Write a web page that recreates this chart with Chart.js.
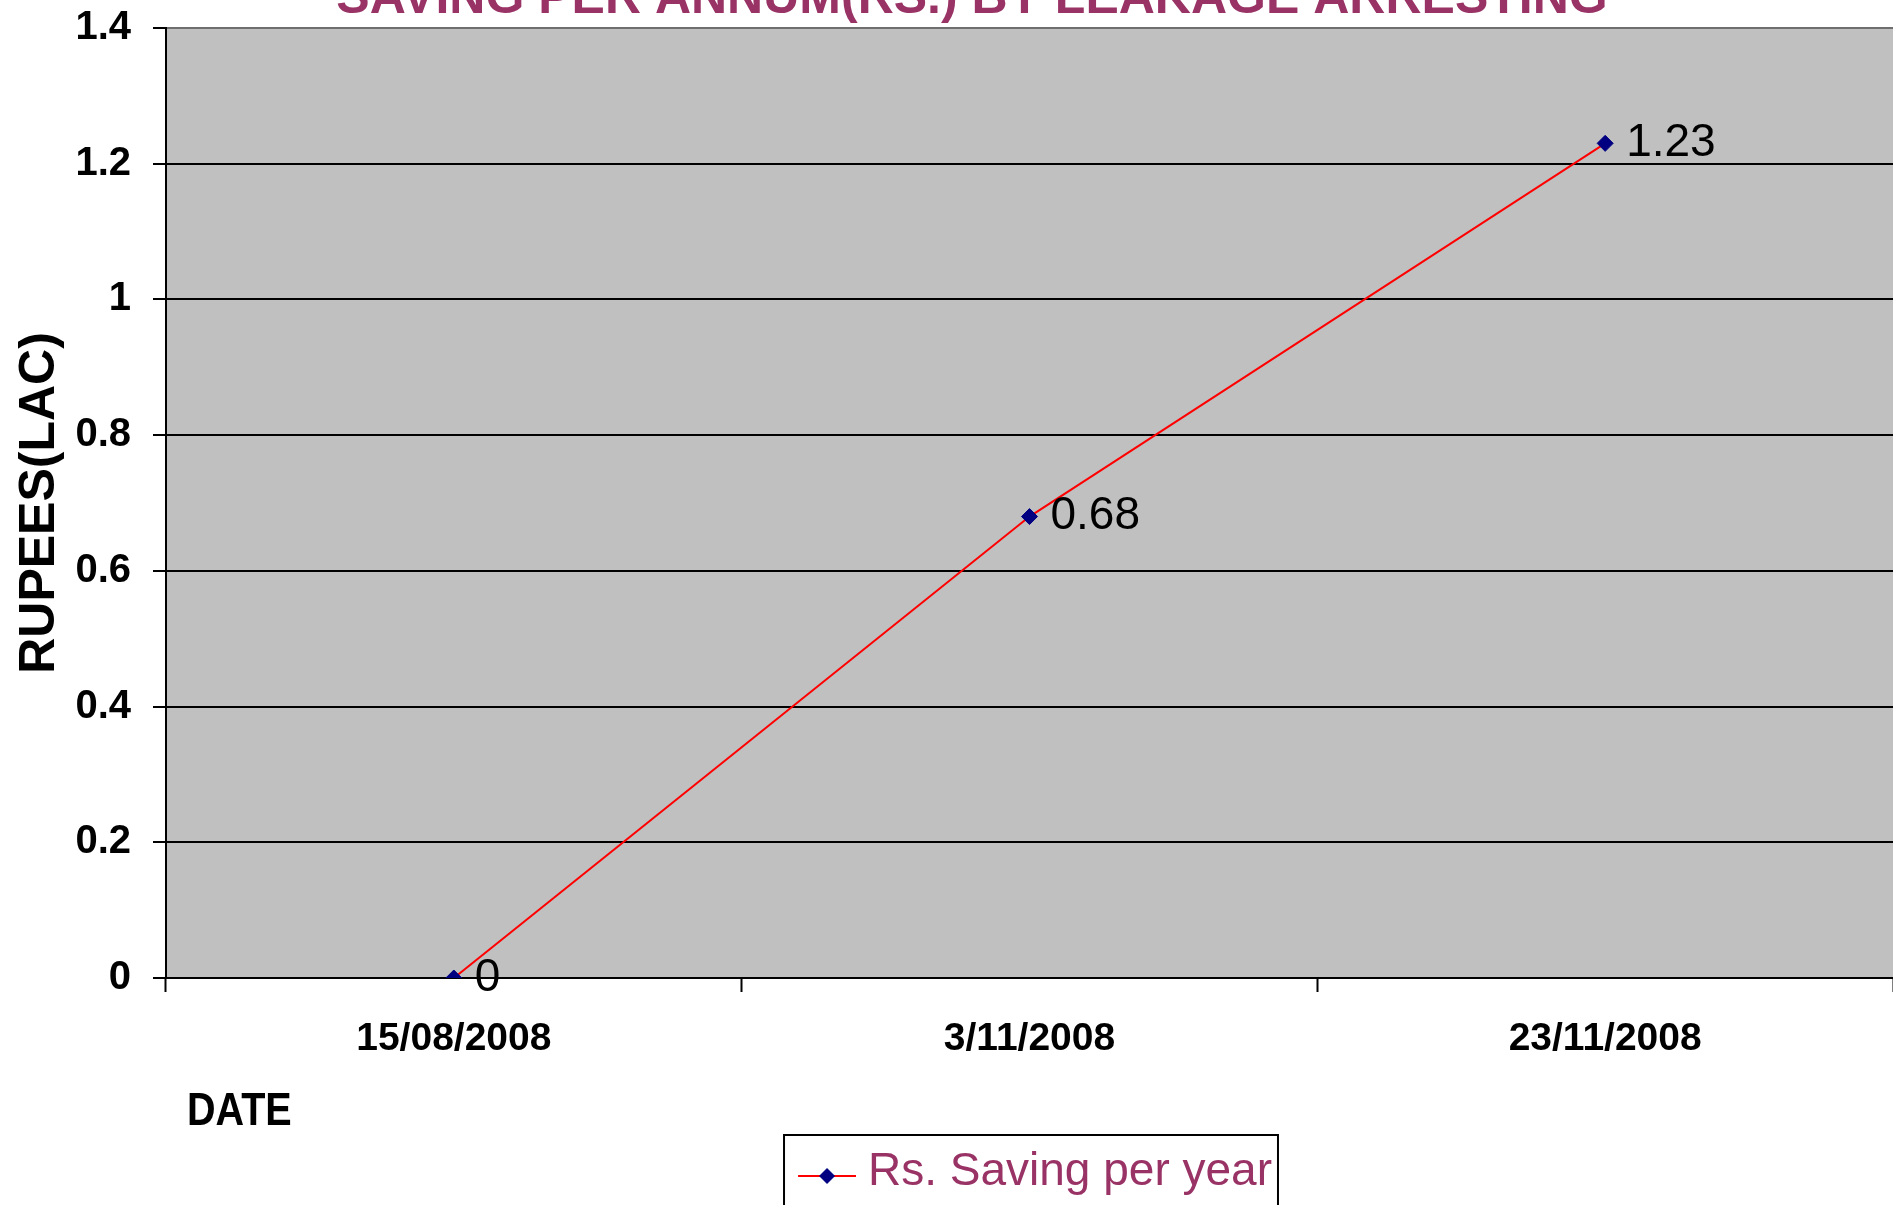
<!DOCTYPE html>
<html>
<head>
<meta charset="utf-8">
<script src="https://cdn.jsdelivr.net/npm/chart.js@4.4.1/dist/chart.umd.min.js"></script>
<style>
  html, body { margin: 0; padding: 0; background: #ffffff; overflow: hidden; }
  #wrap { position: relative; width: 1893px; height: 1205px; }
</style>
</head>
<body>
<div id="wrap"><canvas id="chart"></canvas></div>
<script>
// Texts
const chartTitle = 'SAVING PER ANNUM(RS.) BY LEAKAGE ARRESTING';
const xAxisTitle = 'DATE';
const yAxisTitle = 'RUPEES(LAC)';
const seriesName = 'Rs. Saving per year';

// Data
const categories = ['15/08/2008', '3/11/2008', '23/11/2008'];
const savings = [0, 0.68, 1.23];

// Value axis range
const yMin = 0;
const yMax = 1.4;
const yStep = 0.2;

const FONT = "'Liberation Sans', Arial, sans-serif";
const PLUM = '#993366';
const NAVY = '#000080';
const RED = '#ff0000';
const PLOT_GREY = '#c0c0c0';

// Legend symbol: red line with a navy diamond in the middle
function legendMarker() {
  const c = document.createElement('canvas');
  c.width = 80; c.height = 30;
  const g = c.getContext('2d');
  g.strokeStyle = RED; g.lineWidth = 2;
  g.beginPath(); g.moveTo(22, 19); g.lineTo(80, 19); g.stroke();
  g.fillStyle = NAVY;
  g.beginPath();
  g.moveTo(51, 11); g.lineTo(59, 19); g.lineTo(51, 27); g.lineTo(43, 19);
  g.closePath(); g.fill();
  return c;
}

// Grey fill behind the plot area
const plotBackground = {
  id: 'plotBackground',
  beforeDraw(chart) {
    const { ctx, chartArea: a } = chart;
    ctx.save();
    ctx.fillStyle = PLOT_GREY;
    ctx.fillRect(a.left, a.top, a.right - a.left, a.bottom - a.top);
    ctx.restore();
  }
};

// Value printed to the right of each marker
const pointValueLabels = {
  id: 'pointValueLabels',
  afterDatasetsDraw(chart) {
    const meta = chart.getDatasetMeta(0);
    const ctx = chart.ctx;
    ctx.save();
    ctx.font = `46px ${FONT}`;
    ctx.fillStyle = '#000000';
    ctx.textAlign = 'left';
    ctx.textBaseline = 'middle';
    meta.data.forEach((pt, i) => {
      ctx.fillText(String(savings[i]), pt.x + 21, pt.y);
    });
    ctx.restore();
  }
};

// Chart heading, category-axis caption and the frame round the legend
const headings = {
  id: 'headings',
  afterDraw(chart) {
    const ctx = chart.ctx;
    ctx.save();
    // heading
    ctx.fillStyle = PLUM;
    ctx.font = `bold 50px ${FONT}`;
    ctx.textAlign = 'center';
    ctx.textBaseline = 'alphabetic';
    ctx.fillText(chartTitle, 972, 13);

    // category axis caption
    ctx.fillStyle = '#000000';
    ctx.font = `bold 46px ${FONT}`;
    ctx.textAlign = 'left';
    ctx.translate(187, 1125);
    ctx.scale(0.86, 1);
    ctx.fillText(xAxisTitle, 0, 0);
    ctx.restore();

    // legend frame
    const hb = chart.legend && chart.legend.legendHitBoxes && chart.legend.legendHitBoxes[0];
    if (hb) {
      const mid = hb.top + hb.height / 2;
      ctx.save();
      ctx.strokeStyle = '#000000';
      ctx.lineWidth = 2;
      ctx.strokeRect(hb.left - 3, mid - 37, hb.width + 9, 120);
      ctx.restore();
    }
  }
};

new Chart(document.getElementById('chart'), {
  type: 'line',
  data: {
    labels: categories,
    datasets: [{
      label: seriesName,
      data: savings,
      borderColor: RED,
      borderWidth: 2,
      backgroundColor: NAVY,
      pointStyle: 'rectRot',
      pointRadius: 8,
      pointBorderWidth: 1,
      pointBorderColor: NAVY,
      pointBackgroundColor: NAVY,
      fill: false,
      tension: 0
    }]
  },
  options: {
    responsive: true,
    maintainAspectRatio: false,
    animation: false,
    layout: { autoPadding: false, padding: { top: 28, left: 0, right: 0, bottom: 0 } },
    plugins: {
      title: { display: false },
      tooltip: { enabled: false },
      legend: {
        display: true,
        position: 'bottom',
        fullSize: false,
        labels: {
          usePointStyle: true,
          pointStyle: legendMarker(),
          pointStyleWidth: 58,
          padding: 10,
          color: PLUM,
          font: { family: FONT, size: 46 }
        }
      }
    },
    scales: {
      x: {
        type: 'category',
        offset: true,
        grid: {
          display: true,
          offset: true,
          drawOnChartArea: false,
          drawTicks: true,
          tickLength: 14,
          tickWidth: 2,
          tickColor: '#000000',
          color: '#000000'
        },
        border: { display: true, color: '#000000', width: 2 },
        ticks: {
          color: '#000000',
          padding: 24,
          maxRotation: 0,
          autoSkip: false,
          font: { family: FONT, size: 39, weight: 'bold' }
        },
        afterFit(scale) {
          scale.height = 161;
          scale.paddingLeft = 0;
          scale.paddingRight = 0;
        }
      },
      y: {
        min: yMin,
        max: yMax,
        grid: {
          color: (c) => (c.tick && c.tick.value === yMax ? '#6e6e6e' : '#000000'),
          lineWidth: 2,
          tickLength: 13,
          tickColor: '#000000',
          drawTicks: true
        },
        border: { display: true, color: '#000000', width: 2 },
        ticks: {
          stepSize: yStep,
          color: '#000000',
          padding: 22,
          font: { family: FONT, size: 40, weight: 'bold' },
          callback: (v) => String(Math.round(v * 10) / 10)
        },
        title: {
          display: true,
          text: yAxisTitle,
          color: '#000000',
          padding: { top: 10, bottom: 0 },
          font: { family: FONT, size: 50, weight: 'bold' }
        },
        afterFit(scale) {
          scale.width = 166;
          scale.paddingTop = 0;
          scale.paddingBottom = 0;
        }
      }
    }
  },
  plugins: [plotBackground, pointValueLabels, headings]
});
</script>
</body>
</html>
